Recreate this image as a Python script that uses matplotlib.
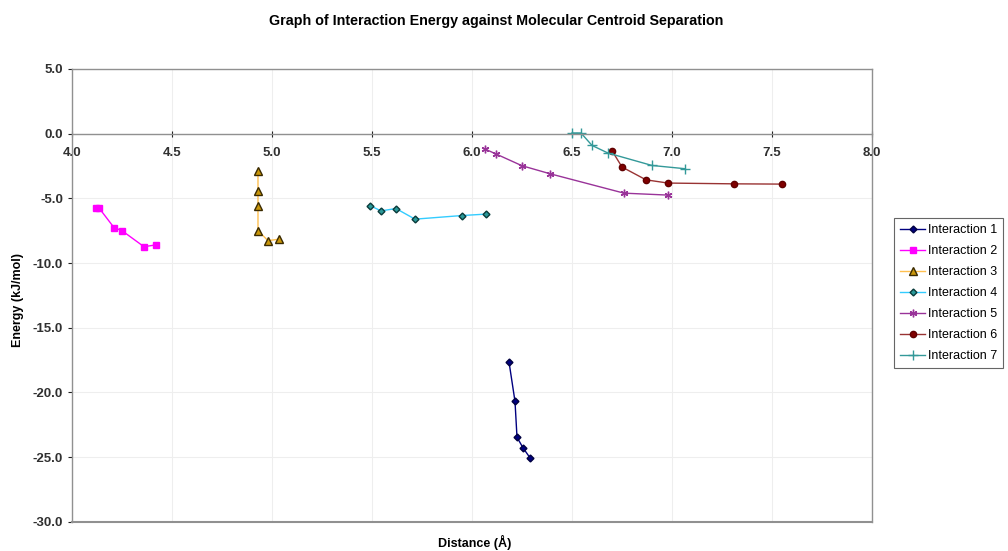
import numpy as np
import matplotlib.pyplot as plt

plt.rcParams['font.family'] = ['Liberation Sans', 'DejaVu Sans']

# Daten
x1 = [6.185, 6.215, 6.225, 6.255, 6.29]
y1 = [-17.65, -20.70, -23.47, -24.29, -25.06]

x2 = [4.12, 4.135, 4.21, 4.25, 4.36, 4.42]
y2 = [-5.74, -5.74, -7.26, -7.50, -8.74, -8.60]

x3 = [4.93, 4.93, 4.93, 4.93, 4.98, 5.035]
y3 = [-2.92, -4.40, -5.56, -7.50, -8.27, -8.16]

x4 = [5.49, 5.545, 5.62, 5.715, 5.95, 6.07]
y4 = [-5.56, -5.97, -5.79, -6.61, -6.33, -6.22]

x5 = [6.065, 6.12, 6.25, 6.39, 6.76, 6.98]
y5 = [-1.19, -1.57, -2.48, -3.10, -4.60, -4.75]

x6 = [6.70, 6.75, 6.87, 6.98, 7.31, 7.55]
y6 = [-1.32, -2.58, -3.57, -3.82, -3.88, -3.90]

x7 = [6.50, 6.545, 6.60, 6.68, 6.90, 7.065]
y7 = [0.05, 0.05, -0.91, -1.50, -2.46, -2.71]

labels = ['Interaction %d' % i for i in range(1, 8)]
x_ticks = np.arange(4.0, 8.01, 0.5)
y_ticks = np.arange(-30.0, 5.01, 5.0)

fig = plt.figure(figsize=(10.08, 5.51), dpi=100)
ax = fig.add_axes([0.0714, 0.0532, 0.7937, 0.8216])

ax.plot(x1, y1, color='#000080', lw=1, marker='D', ms=3.5, mfc='#000080', mec='#000040', label=labels[0])
ax.plot(x2, y2, color='#FF00FF', lw=1, marker='s', ms=4.5, mfc='#FF00FF', mec='#FF00FF', label=labels[1])
ax.plot(x3, y3, color='#FFC050', lw=1, marker='^', ms=6, mfc='#C8960A', mec='#3A2A00', label=labels[2])
ax.plot(x4, y4, color='#33CCFF', lw=1, marker='D', ms=3.5, mfc='#2A9A9A', mec='#0A3A3A', label=labels[3])
ax.plot(x5, y5, color='#993399', lw=1, marker=(6, 2, 0), ms=5.5, mew=1.0, mec='#993399', label=labels[4])
ax.plot(x6, y6, color='#993333', lw=1, marker='o', ms=4.5, mfc='#800000', mec='#600000', label=labels[5])
ax.plot(x7, y7, color='#339999', lw=1, marker='+', ms=6.5, mew=1.0, mec='#339999', label=labels[6])

ax.set_xlim(4.0, 8.0)
ax.set_ylim(-30.0, 5.0)
ax.set_xticks(x_ticks)
ax.set_yticks(y_ticks)
ax.set_xticklabels(['%.1f' % v for v in x_ticks])
ax.set_yticklabels(['%.1f' % v for v in y_ticks])

# Gitter
ax.grid(True, color='#EEEEEE', lw=0.8)
ax.set_axisbelow(True)

# x-Achse schneidet bei 0
for s in ax.spines.values():
    s.set_color('#909090')
    s.set_linewidth(1)
ax.spines['bottom'].set_position(('data', 0))
ax.axhline(-30.0, color='#909090', lw=1.5, clip_on=False)

ax.tick_params(axis='both', labelsize=9.5, colors='#202020', length=3, width=0.8)
ax.tick_params(axis='x', direction='inout', length=5, pad=7)
for t in ax.get_xticklabels() + ax.get_yticklabels():
    t.set_fontweight('bold')
    t.set_color('#303030')

fig.text(0.492, 0.962, 'Graph of Interaction Energy against Molecular Centroid Separation',
         ha='center', va='center', fontsize=10.3, fontweight='bold')
fig.text(0.471, 0.002, 'Distance (\u00c5)', ha='center', va='bottom', fontsize=9, fontweight='bold')
fig.text(0.018, 0.455, 'Energy (kJ/mol)', ha='center', va='center', rotation=90,
         fontsize=9, fontweight='bold')

leg = fig.legend(loc='upper left', bbox_to_anchor=(0.887, 0.605), fontsize=9,
                 frameon=True, fancybox=False, edgecolor='#404040', borderpad=0.5,
                 handlelength=2.0, handletextpad=0.2, labelspacing=0.72,
                 borderaxespad=0.0)
leg.get_frame().set_linewidth(0.8)

plt.savefig('out.png', dpi=100)
